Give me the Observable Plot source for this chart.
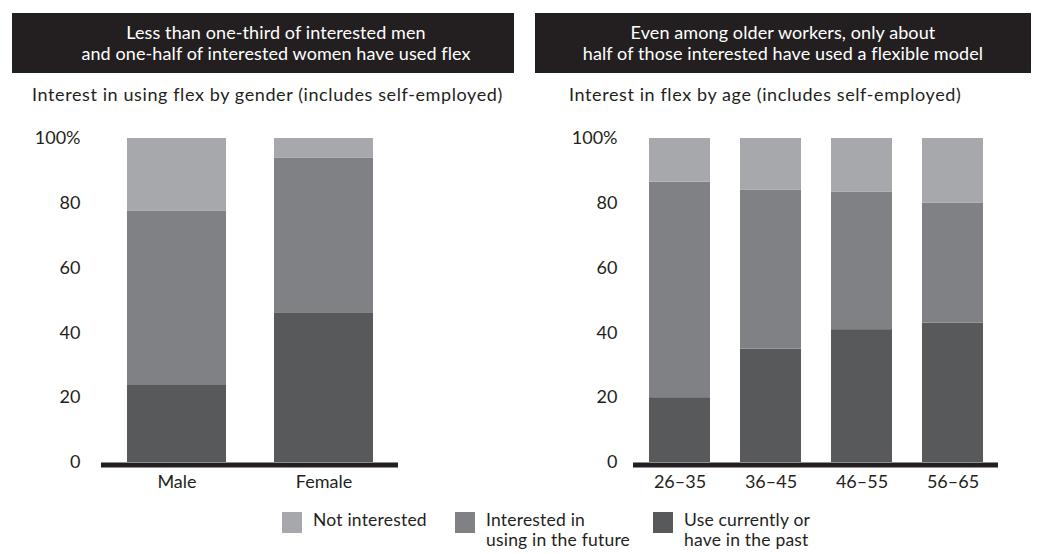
<!DOCTYPE html>
<html>
<head>
<meta charset="utf-8">
<script src="https://cdn.jsdelivr.net/npm/d3@7"></script>
<script src="https://cdn.jsdelivr.net/npm/@observablehq/plot@0.6"></script>
<style>
  html, body { margin: 0; padding: 0; background: #fff; }
  body { width: 1037px; height: 554px; position: relative; overflow: hidden; font-family: Lato, "DejaVu Sans", sans-serif; font-weight: 400; color: #231f20; }
  .box { position: absolute; top: 13px; height: 60px; background: #231f20; color: #fff; display: flex; align-items: center; justify-content: center; text-align: center; font-size: 18px; letter-spacing: 0.1px; line-height: 21px; }
  .sub { position: absolute; top: 83px; font-size: 18px; letter-spacing: 0.6px; white-space: nowrap; }
  .chart { position: absolute; top: 120px; }
  .leg { position: absolute; top: 510px; display: flex; align-items: flex-start; font-size: 17.5px; letter-spacing: 0.2px; line-height: 20px; }
  .sw { width: 20px; height: 21px; margin-right: 11px; margin-top: 2px; flex: none; }
</style>
</head>
<body>
<div class="box" id="t1" style="left:12px;width:502px;padding-left:26px;box-sizing:border-box;"></div>
<div class="box" id="t2" style="left:535px;width:496px;"></div>
<div class="sub" id="s1" style="left:32px;"></div>
<div class="sub" id="s2" style="left:569px;"></div>
<div class="chart" id="c1" style="left:0px;"></div>
<div class="chart" id="c2" style="left:520px;"></div>
<div id="legend"></div>
<script>
// ---- Data ----
const titleLeft = ["Less than one-third of interested men", "and one-half of interested women have used flex"];
const titleRight = ["Even among older workers, only about", "half of those interested have used a flexible model"];
const subLeft = "Interest in using flex by gender (includes self-employed)";
const subRight = "Interest in flex by age (includes self-employed)";

const seriesNames = ["Use currently or have in the past", "Interested in using in the future", "Not interested"];
const seriesColors = ["#58595b", "#808184", "#a7a8ab"];

const genders = ["Male", "Female"];
const genderUse = [24, 46];
const genderInterested = [53.5, 48];
const genderNot = [22.5, 6];

const ages = ["26–35", "36–45", "46–55", "56–65"];
const ageUse = [20, 35, 41, 43];
const ageInterested = [66.5, 49, 42.5, 37];
const ageNot = [13.5, 16, 16.5, 20];

const yTicks = [0, 20, 40, 60, 80, 100];

const legendItems = [
  {lines: ["Not interested"], color: "#a7a8ab", left: 282},
  {lines: ["Interested in", "using in the future"], color: "#808184", left: 455},
  {lines: ["Use currently or", "have in the past"], color: "#58595b", left: 653}
];

// ---- Build ----
function longData(cats, series) {
  const out = [];
  cats.forEach((c, i) => {
    series.forEach((vals, s) => out.push({cat: c, series: seriesNames[s], value: vals[i]}));
  });
  return out;
}

document.getElementById("t1").innerHTML = titleLeft.join("<br>");
document.getElementById("t2").innerHTML = titleRight.join("<br>");
document.getElementById("s1").textContent = subLeft;
document.getElementById("s2").textContent = subRight;

const font = 'Lato, "DejaVu Sans", sans-serif';

function chart(cats, data, opts) {
  return Plot.plot({
    width: opts.width,
    height: 380,
    marginLeft: opts.marginLeft,
    marginRight: opts.marginRight,
    marginTop: 18,
    marginBottom: 38,
    style: {fontFamily: font, fontSize: "18px", color: "#231f20", background: "transparent", overflow: "visible"},
    x: {domain: cats, paddingInner: opts.pi, paddingOuter: opts.po, label: null},
    y: {domain: [0, 100], label: null},
    color: {domain: seriesNames, range: seriesColors},
    marks: [
      Plot.barY(data, Plot.stackY({x: "cat", y: "value", fill: "series", order: null})),
      Plot.ruleY([0], {stroke: "#231f20", strokeWidth: 5, dy: 2.5}),
      Plot.axisY({ticks: yTicks, tickSize: 0, tickPadding: opts.tp, tickFormat: d => d === 100 ? "100%" : String(d), label: null, fill: "#231f20"}),
      Plot.axisX({tickSize: 0, tickPadding: 13, label: null, fill: "#231f20"})
    ]
  });
}

document.getElementById("c1").appendChild(
  chart(genders, longData(genders, [genderUse, genderInterested, genderNot]),
    {width: 420, marginLeft: 101, marginRight: 22, pi: 0.327, po: 0.17, tp: 21})
);
document.getElementById("c2").appendChild(
  chart(ages, longData(ages, [ageUse, ageInterested, ageNot]),
    {width: 517, marginLeft: 113, marginRight: 39, pi: 0.33, po: 0.165, tp: 16})
);

const leg = document.getElementById("legend");
legendItems.forEach(it => {
  const d = document.createElement("div");
  d.className = "leg";
  d.style.left = it.left + "px";
  const sw = document.createElement("div");
  sw.className = "sw";
  sw.style.background = it.color;
  const tx = document.createElement("div");
  tx.innerHTML = it.lines.join("<br>");
  d.appendChild(sw); d.appendChild(tx);
  leg.appendChild(d);
});
</script>
</body>
</html>
